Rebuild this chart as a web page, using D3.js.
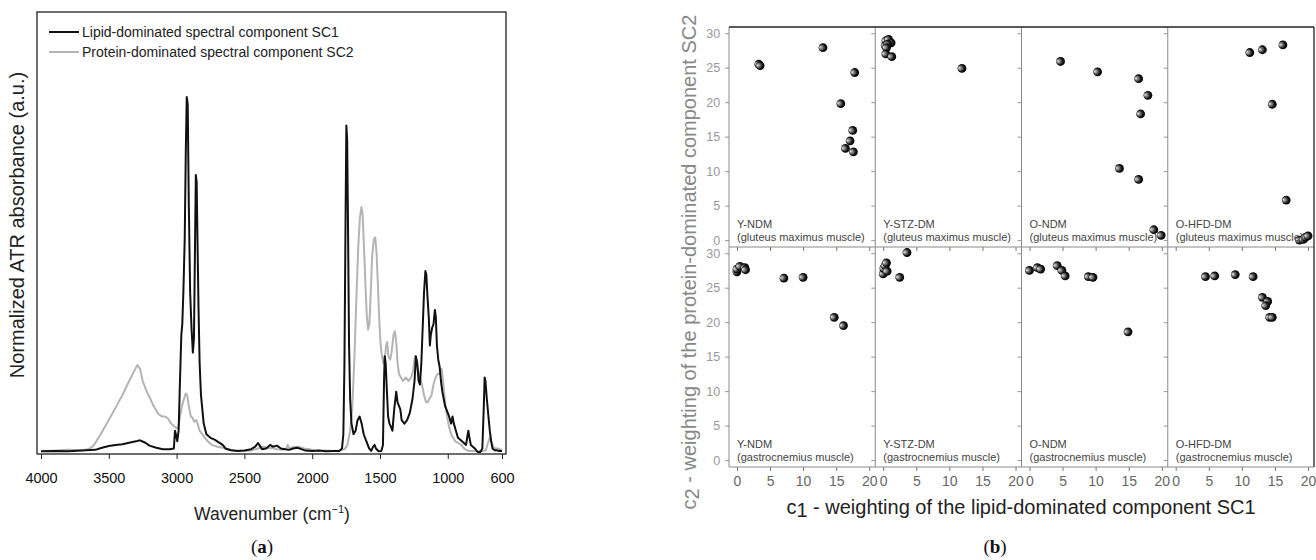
<!DOCTYPE html>
<html>
<head>
<meta charset="utf-8">
<script src="https://cdn.jsdelivr.net/npm/d3@7"></script>
<style>
  body { margin: 0; background: #fff; }
  text { font-family: "Liberation Sans", Arial, sans-serif; }
</style>
</head>
<body>
<div id="app"></div>
<script>
// ---- panel (a): spectral components ----
let sc1Wn  = [4000,3900,3800,3700,3600,3550,3500,3450,3400,3350,3300,3270,3230,3200,3150,3100,3050,3020,3012,3005,2995,2985,2975,2965,2958,2950,2940,2932,2925,2918,2910,2900,2890,2880,2872,2865,2858,2852,2846,2838,2830,2820,2810,2800,2780,2750,2720,2700,2680,2660,2640,2600,2550,2500,2450,2420,2400,2390,2370,2340,2310,2290,2260,2230,2200,2170,2140,2110,2080,2050,2000,1950,1900,1850,1800,1780,1770,1762,1755,1748,1742,1736,1728,1720,1710,1695,1680,1665,1650,1635,1620,1600,1580,1565,1550,1540,1530,1510,1490,1478,1470,1465,1458,1450,1440,1430,1418,1408,1395,1380,1370,1360,1350,1340,1320,1300,1280,1260,1245,1235,1225,1215,1205,1195,1185,1175,1165,1158,1150,1140,1132,1125,1115,1105,1095,1088,1080,1070,1060,1050,1040,1030,1020,1010,1000,990,975,965,955,940,925,910,895,880,865,855,848,840,830,815,800,780,760,745,735,728,722,712,700,690,680,670,655,640,620,600];
let sc1Abs = [0.002,0.003,0.002,0.004,0.006,0.012,0.017,0.02,0.022,0.026,0.03,0.033,0.026,0.018,0.012,0.008,0.008,0.01,0.06,0.05,0.03,0.06,0.2,0.33,0.36,0.45,0.6,0.85,1.0,0.98,0.7,0.45,0.35,0.28,0.32,0.55,0.78,0.76,0.6,0.4,0.25,0.16,0.12,0.08,0.05,0.04,0.035,0.03,0.025,0.02,0.01,0.005,0.003,0.004,0.008,0.015,0.025,0.02,0.008,0.01,0.02,0.015,0.018,0.01,0.008,0.006,0.01,0.012,0.008,0.004,0.003,0.004,0.002,0.003,0.003,0.01,0.05,0.25,0.6,0.92,0.88,0.65,0.3,0.15,0.08,0.05,0.06,0.09,0.1,0.08,0.05,0.03,0.01,0.003,0.015,0.02,0.01,0.002,0.003,0.02,0.2,0.27,0.25,0.18,0.1,0.08,0.07,0.06,0.12,0.17,0.14,0.13,0.12,0.09,0.08,0.09,0.11,0.15,0.2,0.27,0.25,0.2,0.19,0.25,0.35,0.45,0.51,0.5,0.44,0.38,0.3,0.33,0.35,0.36,0.4,0.38,0.3,0.26,0.24,0.2,0.17,0.15,0.13,0.12,0.11,0.1,0.08,0.1,0.08,0.06,0.04,0.035,0.03,0.025,0.02,0.045,0.06,0.04,0.02,0.015,0.01,0.0,0.0,0.01,0.12,0.21,0.2,0.15,0.1,0.06,0.03,0.01,0.005,0.005,0.003,0.003];

let sc2Wn  = [4000,3900,3800,3700,3650,3620,3600,3560,3500,3450,3400,3350,3310,3290,3270,3250,3220,3200,3170,3140,3110,3085,3065,3040,3010,2990,2975,2960,2945,2932,2922,2910,2895,2880,2870,2855,2845,2830,2800,2770,2740,2700,2660,2620,2580,2550,2500,2450,2400,2360,2320,2300,2260,2220,2190,2180,2170,2140,2100,2060,2020,1980,1950,1900,1850,1800,1760,1740,1720,1705,1690,1675,1660,1648,1637,1628,1618,1608,1598,1588,1578,1568,1558,1545,1535,1525,1515,1505,1495,1485,1475,1465,1455,1447,1438,1425,1415,1400,1390,1380,1370,1360,1345,1330,1310,1290,1270,1255,1242,1232,1220,1205,1190,1175,1160,1150,1135,1120,1105,1090,1075,1060,1045,1035,1020,1005,990,975,960,945,920,900,880,860,840,800,760,720,700,690,678,665,650,630,615,600];
let sc2Abs = [0.003,0.004,0.006,0.005,0.008,0.015,0.025,0.05,0.09,0.125,0.16,0.2,0.23,0.245,0.235,0.2,0.17,0.155,0.13,0.11,0.1,0.1,0.095,0.08,0.07,0.065,0.1,0.13,0.15,0.165,0.16,0.13,0.1,0.095,0.085,0.09,0.08,0.06,0.045,0.03,0.02,0.015,0.012,0.008,0.005,0.004,0.003,0.004,0.01,0.015,0.01,0.012,0.008,0.006,0.01,0.02,0.01,0.014,0.015,0.01,0.008,0.004,0.003,0.004,0.003,0.004,0.008,0.02,0.06,0.12,0.25,0.42,0.58,0.66,0.69,0.67,0.58,0.48,0.39,0.345,0.36,0.45,0.55,0.6,0.605,0.56,0.47,0.37,0.3,0.27,0.25,0.26,0.3,0.31,0.27,0.26,0.28,0.33,0.34,0.31,0.25,0.22,0.21,0.2,0.21,0.2,0.21,0.23,0.27,0.26,0.23,0.21,0.19,0.16,0.14,0.14,0.15,0.16,0.19,0.21,0.22,0.22,0.235,0.2,0.14,0.1,0.07,0.05,0.04,0.03,0.025,0.02,0.01,0.005,0.003,0.003,0.002,0.004,0.03,0.04,0.03,0.015,0.01,0.01,0.008,0.005];

let wnTicks = [4000, 3500, 3000, 2500, 2000, 1500, 1000, 600];
let legendLabels = ['Lipid-dominated spectral component SC1', 'Protein-dominated spectral component SC2'];

// ---- panel (b): weightings c1 / c2 per group, [c1, c2] ----
let groups  = ['Y-NDM', 'Y-STZ-DM', 'O-NDM', 'O-HFD-DM'];
let muscles = ['(gluteus maximus muscle)', '(gastrocnemius muscle)'];

let yNdmGlut   = [[3.3,25.5],[3.5,25.3],[13.0,27.9],[17.8,24.3],[15.7,19.8],[17.5,15.9],[17.1,14.4],[16.4,13.3],[17.6,12.8]];
let yStzGlut   = [[0.4,28.9],[0.8,29.1],[1.2,28.6],[0.3,28.2],[0.7,28.4],[0.5,27.9],[0.4,27.0],[1.3,26.6],[11.9,24.9]];
let oNdmGlut   = [[4.7,25.9],[10.3,24.4],[16.5,23.4],[17.9,21.0],[16.8,18.3],[13.6,10.4],[16.5,8.8],[18.8,1.5],[19.9,0.7]];
let oHfdGlut   = [[11.2,27.2],[13.1,27.6],[16.2,28.3],[14.6,19.7],[16.7,5.8],[18.7,0.0],[19.3,0.1],[19.6,0.4],[20.0,0.6]];
let yNdmGastro = [[0.0,27.3],[0.0,27.7],[0.45,28.1],[1.2,27.9],[1.3,27.6],[7.1,26.4],[10.0,26.5],[14.7,20.7],[16.1,19.5]];
let yStzGastro = [[3.6,30.1],[0.0,27.0],[0.1,27.8],[0.3,28.2],[0.5,28.6],[0.6,27.4],[2.5,26.5]];
let oNdmGastro = [[0.0,27.5],[1.2,27.9],[1.7,27.7],[4.2,28.2],[4.9,27.5],[5.4,26.7],[8.9,26.6],[9.6,26.5],[14.9,18.6]];
let oHfdGastro = [[4.5,26.6],[5.9,26.7],[9.0,26.9],[11.7,26.6],[13.1,23.6],[13.9,23.0],[13.6,22.4],[14.2,20.7],[14.6,20.7]];

let cells = [yNdmGlut, yStzGlut, oNdmGlut, oHfdGlut, yNdmGastro, yStzGastro, oNdmGastro, oHfdGastro];
let c1Ticks = [0, 5, 10, 15, 20];
let c2Ticks = [0, 5, 10, 15, 20, 25, 30];

let width = 1316, height = 560;

let svg = d3.select('#app').append('svg')
    .attr('width', width)
    .attr('height', height)
    .style('background', '#fff');

// marker shading (dark sphere, light on the left)
let grad = svg.append('defs').append('radialGradient')
    .attr('id', 'ball')
    .attr('cx', '0.5').attr('cy', '0.5').attr('r', '0.6')
    .attr('fx', '0.15').attr('fy', '0.45');
grad.append('stop').attr('offset', '0%').attr('stop-color', '#e8e8e8');
grad.append('stop').attr('offset', '35%').attr('stop-color', '#777');
grad.append('stop').attr('offset', '65%').attr('stop-color', '#111');
grad.append('stop').attr('offset', '100%').attr('stop-color', '#000');

// ================= panel (a) =================
let aBox = {left: 37, right: 506, top: 12, bottom: 454};

let xWn = d3.scaleLinear().domain([4000, 600]).range([41, 502]);
let yAbs = d3.scaleLinear().domain([0, 1]).range([452, 97]);

let pa = svg.append('g');

pa.append('rect')
    .attr('x', aBox.left).attr('y', aBox.top)
    .attr('width', aBox.right - aBox.left)
    .attr('height', aBox.bottom - aBox.top)
    .attr('fill', 'none')
    .attr('stroke', '#222')
    .attr('stroke-width', 1.3);

let line = d3.line()
    .x(d => xWn(d[0]))
    .y(d => yAbs(d[1]));

pa.append('path')
    .datum(d3.zip(sc2Wn, sc2Abs))
    .attr('d', line)
    .attr('fill', 'none')
    .attr('stroke', '#b4b4b4')
    .attr('stroke-width', 2)
    .attr('stroke-linejoin', 'round');

pa.append('path')
    .datum(d3.zip(sc1Wn, sc1Abs))
    .attr('d', line)
    .attr('fill', 'none')
    .attr('stroke', '#111')
    .attr('stroke-width', 2)
    .attr('stroke-linejoin', 'round');

let xAxisA = pa.append('g')
    .attr('transform', 'translate(0,' + aBox.bottom + ')')
    .call(d3.axisBottom(xWn).tickValues(wnTicks).tickFormat(d3.format('d')).tickSize(5).tickSizeOuter(0));
xAxisA.select('.domain').remove();
xAxisA.selectAll('line').attr('stroke', '#222');
xAxisA.selectAll('text')
    .attr('dy', '1.45em')
    .style('font-size', '14.5px')
    .attr('fill', '#111');

// legend
let legColors = ['#111', '#b4b4b4'];
legendLabels.forEach(function(t, i) {
  let y = 32 + i * 20;
  pa.append('line')
      .attr('x1', 49).attr('x2', 79)
      .attr('y1', y).attr('y2', y)
      .attr('stroke', legColors[i])
      .attr('stroke-width', 2);
  pa.append('text')
      .attr('x', 82).attr('y', y + 5)
      .style('font-size', '14px')
      .attr('fill', '#222')
      .text(t);
});

pa.append('text')
    .attr('transform', 'translate(24,225) rotate(-90)')
    .attr('text-anchor', 'middle')
    .style('font-size', '20px')
    .attr('fill', '#222')
    .text('Normalized ATR absorbance (a.u.)');

let xt = pa.append('text')
    .attr('x', 272).attr('y', 520)
    .attr('text-anchor', 'middle')
    .style('font-size', '17.5px')
    .attr('fill', '#222');
xt.append('tspan').text('Wavenumber (cm');
xt.append('tspan').attr('dy', -7).style('font-size', '11px').text('\u22121');
xt.append('tspan').attr('dy', 7).text(')');

let la = svg.append('text')
    .attr('x', 262).attr('y', 553)
    .attr('text-anchor', 'middle')
    .style('font-family', '"Liberation Serif", "DejaVu Serif", serif')
    .style('font-size', '19px')
    .attr('fill', '#111');
la.append('tspan').text('(');
la.append('tspan').style('font-weight', 'bold').text('a');
la.append('tspan').text(')');

// ================= panel (b) =================
let bLeft = 729, bRight = 1314, bTop = 27, rowH = 220;
let colW = (bRight - bLeft) / 4;
let pb = svg.append('g');

cells.forEach(function(pts, k) {
  let col = k % 4, row = Math.floor(k / 4);
  let x0 = bLeft + col * colW, y0 = bTop + row * rowH;
  let xs = d3.scaleLinear().domain([-1.2, 20.9]).range([x0, x0 + colW]);
  let ys = d3.scaleLinear().domain([-1, 30.9]).range([y0 + rowH, y0]);

  let g = pb.append('g');

  // y ticks on the left edge of each cell
  let ya = g.append('g')
      .attr('transform', 'translate(' + x0 + ',0)')
      .call(d3.axisLeft(ys).tickValues(c2Ticks).tickSize(4).tickSizeOuter(0));
  ya.select('.domain').remove();
  ya.selectAll('line').attr('stroke', '#999');
  if (col === 0) {
    ya.selectAll('text')
        .attr('dx', '-0.15em')
        .style('font-size', '12.5px')
        .attr('fill', '#999');
  } else {
    ya.selectAll('text').remove();
  }

  // x ticks on the bottom edge of each cell
  let xa = g.append('g')
      .attr('transform', 'translate(0,' + (y0 + rowH) + ')')
      .call(d3.axisBottom(xs).tickValues(c1Ticks).tickSize(4).tickSizeOuter(0));
  xa.select('.domain').remove();
  xa.selectAll('line').attr('stroke', '#777');
  if (row === 1) {
    xa.selectAll('text')
        .attr('dy', '0.85em')
        .style('font-size', '14px')
        .attr('fill', '#666');
  } else {
    xa.selectAll('text').remove();
  }

  g.selectAll('circle')
      .data(pts)
      .enter()
      .append('circle')
        .attr('cx', d => xs(d[0]))
        .attr('cy', d => ys(d[1]))
        .attr('r', 4.4)
        .attr('fill', 'url(#ball)');

  g.append('text')
      .attr('x', x0 + 8).attr('y', y0 + rowH - 19)
      .style('font-size', '11px')
      .attr('fill', '#444')
      .text(groups[col]);
  g.append('text')
      .attr('x', x0 + 8).attr('y', y0 + rowH - 6)
      .style('font-size', '11px')
      .attr('fill', '#444')
      .text(muscles[row]);
});

// cell borders
for (let c = 1; c < 4; c++) {
  pb.append('line')
      .attr('x1', bLeft + c * colW).attr('x2', bLeft + c * colW)
      .attr('y1', bTop).attr('y2', bTop + 2 * rowH)
      .attr('stroke', '#8a8a8a');
}
pb.append('line')
    .attr('x1', bLeft).attr('x2', bRight)
    .attr('y1', bTop + rowH).attr('y2', bTop + rowH)
    .attr('stroke', '#8a8a8a');
pb.append('line')
    .attr('x1', bLeft).attr('x2', bLeft)
    .attr('y1', bTop).attr('y2', bTop + 2 * rowH)
    .attr('stroke', '#8a8a8a');
pb.append('line')
    .attr('x1', bLeft).attr('x2', bRight)
    .attr('y1', bTop + 2 * rowH).attr('y2', bTop + 2 * rowH)
    .attr('stroke', '#8a8a8a');
pb.append('line')
    .attr('x1', bLeft).attr('x2', bRight)
    .attr('y1', bTop).attr('y2', bTop)
    .attr('stroke', '#222').attr('stroke-width', 1.3);
pb.append('line')
    .attr('x1', bRight).attr('x2', bRight)
    .attr('y1', bTop).attr('y2', bTop + 2 * rowH)
    .attr('stroke', '#222').attr('stroke-width', 1.3);

// axis titles
let yT = pb.append('text')
    .attr('transform', 'translate(696,262) rotate(-90)')
    .attr('text-anchor', 'middle')
    .style('font-size', '20px')
    .attr('fill', '#888');
yT.append('tspan').text('c');
yT.append('tspan').attr('dy', 3).text('2');
yT.append('tspan').attr('dy', -3).text(' - weighting of the protein-dominated component SC2');

let xT = pb.append('text')
    .attr('x', 1021).attr('y', 514)
    .attr('text-anchor', 'middle')
    .style('font-size', '20px')
    .attr('fill', '#222');
xT.append('tspan').text('c');
xT.append('tspan').attr('dy', 3).text('1');
xT.append('tspan').attr('dy', -3).text(' - weighting of the lipid-dominated component SC1');

let lb = svg.append('text')
    .attr('x', 995).attr('y', 553)
    .attr('text-anchor', 'middle')
    .style('font-family', '"Liberation Serif", "DejaVu Serif", serif')
    .style('font-size', '19px')
    .attr('fill', '#111');
lb.append('tspan').text('(');
lb.append('tspan').style('font-weight', 'bold').text('b');
lb.append('tspan').text(')');
</script>
</body>
</html>
